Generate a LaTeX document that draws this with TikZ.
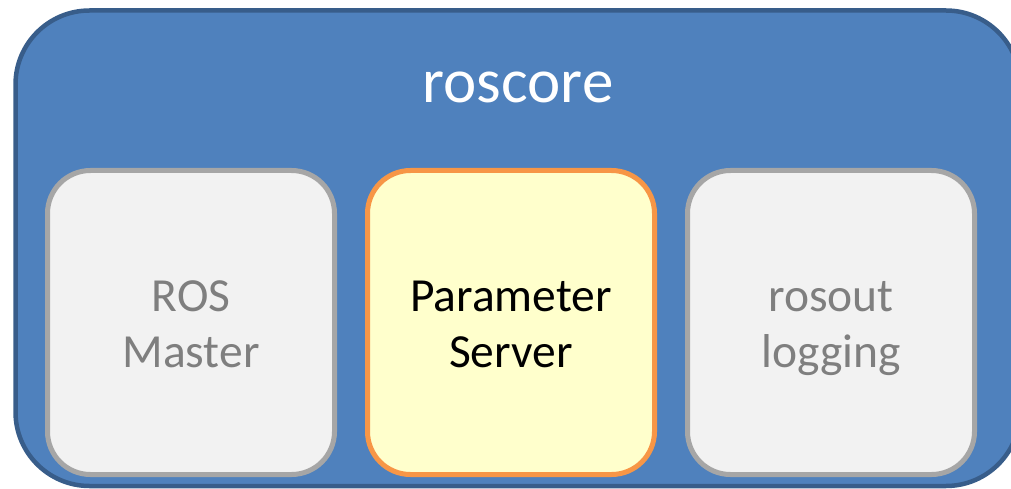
\documentclass[tikz,border=0pt]{standalone}
\usepackage{fontspec}
\setmainfont{Carlito}
\definecolor{coreFill}{HTML}{4F81BD}
\definecolor{coreLine}{HTML}{385D8A}
\definecolor{greyFill}{HTML}{F2F2F2}
\definecolor{greyLine}{HTML}{A6A6A6}
\definecolor{greyText}{HTML}{7F7F7F}
\definecolor{paramFill}{HTML}{FFFFCC}
\definecolor{paramLine}{HTML}{F79646}
\tikzset{
  corebox/.style={draw=coreLine, fill=coreFill, line width=4.5pt,
    rounded corners=74pt, outer sep=0pt, inner sep=0pt,
    minimum width=1004.5pt, minimum height=475.5pt, anchor=north west},
  part/.style={line width=5pt, rounded corners=43pt, outer sep=0pt,
    minimum width=287pt, minimum height=304pt, anchor=north west},
  greypart/.style={part, draw=greyLine, fill=greyFill},
  parampart/.style={part, draw=paramLine, fill=paramFill},
  parttext/.style={align=center, inner sep=0pt, yshift=-6pt,
    font=\fontsize{47.5}{56}\selectfont},
  greytext/.style={parttext, text=greyText},
  paramtext/.style={parttext, text=black},
  titletext/.style={text=white, font=\fontsize{63}{74}\selectfont, inner sep=0pt}
}
\begin{document}
\begin{tikzpicture}
\useasboundingbox (0pt,0pt) rectangle (1011pt,-489pt);
% outer roscore container and its title
\node[corebox] (core) at (15.5pt,-10.5pt) {};
\node[titletext] (title) at (518pt,-87pt) {roscore};
% the three components
\node[greypart] (master) at (47.5pt,-170.5pt) {};
\node[parampart] (param) at (367.5pt,-170.5pt) {};
\node[greypart] (rosout) at (687.5pt,-170.5pt) {};
\node[greytext] (masterlabel) at (master.center) {\strut ROS\\\strut Master};
\node[paramtext] (paramlabel) at (param.center) {\strut Parameter\\\strut Server};
\node[greytext] (rosoutlabel) at (rosout.center) {\strut rosout\\\strut logging};
\end{tikzpicture}
\end{document}
